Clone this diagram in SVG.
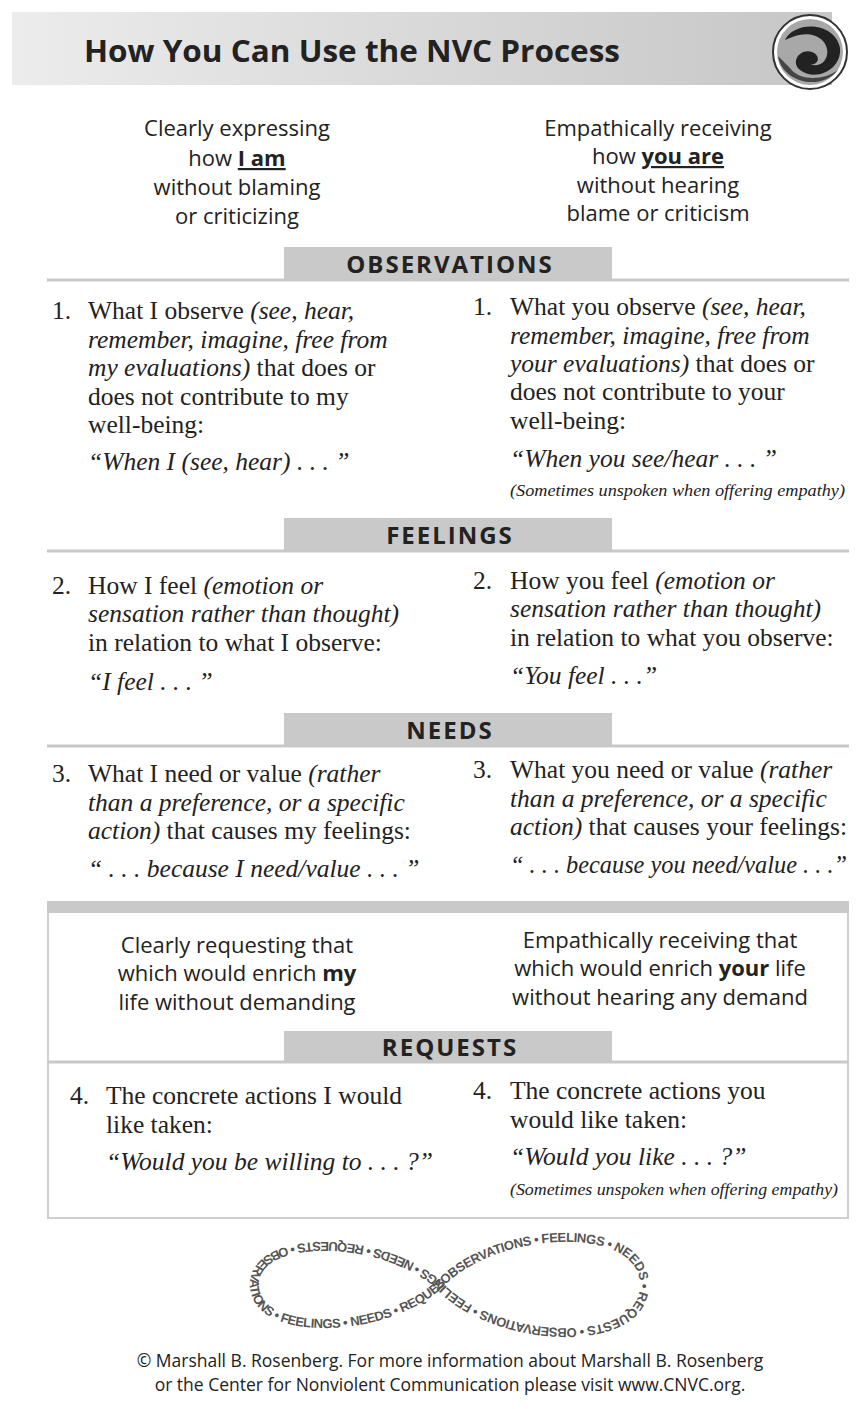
<svg xmlns="http://www.w3.org/2000/svg" width="866" height="1409" viewBox="0 0 866 1409">
<defs>
<linearGradient id="hg" x1="0" x2="1" y1="0" y2="0"><stop offset="0" stop-color="#ececec"/><stop offset="1" stop-color="#c6c6c6"/></linearGradient>
<path id="inf" d="M445,1285 C500,1230 640,1225 640,1285 C640,1345 500,1340 445,1285 C390,1230 250,1225 250,1285 C250,1345 390,1340 445,1285"/>
</defs>
<style>
.sans{font-family:"Open Sans","Liberation Sans",sans-serif;fill:#222}
.sub{font-size:22px;text-anchor:middle}
.serif{font-family:"Liberation Serif","DejaVu Serif",serif;font-size:25.5px;fill:#222}
.it{font-style:italic}
.note{font-size:16px;font-style:italic}
.band{fill:#c9c9c9}
.rule{stroke:#c8c8c8;stroke-width:3}
.lab{font-family:"Open Sans","Liberation Sans",sans-serif;font-weight:bold;font-size:24px;letter-spacing:2px;text-anchor:middle;fill:#222}
</style>
<rect width="866" height="1409" fill="#fff"/>
<g id="header">
<rect x="12" y="12" width="820" height="73" fill="url(#hg)"/>
<text x="84" y="62" class="sans" font-size="30" font-weight="bold" textLength="536" lengthAdjust="spacingAndGlyphs">How You Can Use the NVC Process</text>
<circle cx="810" cy="52" r="37" fill="#fff" stroke="#333" stroke-width="2"/>
<circle cx="810" cy="52" r="33" fill="#a8a8a8"/>
<path d="M785,40 C795,20 835,22 840,48 C842,70 815,82 800,70 C790,62 800,48 812,52 C822,56 818,66 810,64 C824,70 834,52 822,40 C808,28 790,38 785,40Z" fill="#222"/>
<path d="M778,56 C782,82 820,92 838,70 C825,80 800,82 790,68 Z" fill="#444"/>
</g>
<g id="intro">
<text class="sans sub" x="237" y="136">Clearly expressing</text>
<text class="sans sub" x="237" y="166">how <tspan font-weight="bold" text-decoration="underline">I am</tspan></text>
<text class="sans sub" x="237" y="195">without blaming</text>
<text class="sans sub" x="237" y="224">or criticizing</text>
<text class="sans sub" x="658" y="136">Empathically receiving</text>
<text class="sans sub" x="658" y="164">how <tspan font-weight="bold" text-decoration="underline">you are</tspan></text>
<text class="sans sub" x="658" y="193">without hearing</text>
<text class="sans sub" x="658" y="221">blame or criticism</text>
</g>
<g id="observations">
<rect class="band" x="284" y="247" width="328" height="32"/>
<line class="rule" x1="47" y1="280" x2="849" y2="280"/>
<text class="lab" x="450" y="273">OBSERVATIONS</text>
<text class="serif" x="52" y="319">1.</text>
<text class="serif" x="88" y="319">What I observe <tspan class="it">(see, hear,</tspan></text>
<text class="serif it" x="88" y="348">remember, imagine, free from</text>
<text class="serif" x="88" y="376"><tspan class="it">my evaluations)</tspan> that does or</text>
<text class="serif" x="88" y="405">does not contribute to my</text>
<text class="serif" x="88" y="433">well-being:</text>
<text class="serif it" x="88" y="470">“When I (see, hear) . . . ”</text>
<text class="serif" x="473" y="315">1.</text>
<text class="serif" x="510" y="315">What you observe <tspan class="it">(see, hear,</tspan></text>
<text class="serif it" x="510" y="344">remember, imagine, free from</text>
<text class="serif" x="510" y="372"><tspan class="it">your evaluations)</tspan> that does or</text>
<text class="serif" x="510" y="400">does not contribute to your</text>
<text class="serif" x="510" y="429">well-being:</text>
<text class="serif it" x="510" y="467">“When you see/hear . . . ”</text>
<text class="serif note" x="510" y="496" textLength="335" lengthAdjust="spacingAndGlyphs">(Sometimes unspoken when offering empathy)</text>
</g>
<g id="feelings">
<rect class="band" x="284" y="518" width="328" height="32"/>
<line class="rule" x1="47" y1="551" x2="849" y2="551"/>
<text class="lab" x="450" y="544">FEELINGS</text>
<text class="serif" x="52" y="594">2.</text>
<text class="serif" x="88" y="594">How I feel <tspan class="it">(emotion or</tspan></text>
<text class="serif it" x="88" y="622">sensation rather than thought)</text>
<text class="serif" x="88" y="651">in relation to what I observe:</text>
<text class="serif it" x="88" y="690">“I feel . . . ”</text>
<text class="serif" x="473" y="589">2.</text>
<text class="serif" x="510" y="589">How you feel <tspan class="it">(emotion or</tspan></text>
<text class="serif it" x="510" y="617">sensation rather than thought)</text>
<text class="serif" x="510" y="646">in relation to what you observe:</text>
<text class="serif it" x="510" y="684">“You feel . . .”</text>
</g>
<g id="needs">
<rect class="band" x="284" y="713" width="328" height="32"/>
<line class="rule" x1="47" y1="746" x2="849" y2="746"/>
<text class="lab" x="450" y="739">NEEDS</text>
<text class="serif" x="52" y="782">3.</text>
<text class="serif" x="88" y="782">What I need or value <tspan class="it">(rather</tspan></text>
<text class="serif it" x="88" y="811">than a preference, or a specific</text>
<text class="serif" x="88" y="839"><tspan class="it">action)</tspan> that causes my feelings:</text>
<text class="serif it" x="88" y="877">“ . . . because I need/value . . . ”</text>
<text class="serif" x="473" y="778">3.</text>
<text class="serif" x="510" y="778">What you need or value <tspan class="it">(rather</tspan></text>
<text class="serif it" x="510" y="807">than a preference, or a specific</text>
<text class="serif" x="510" y="835"><tspan class="it">action)</tspan> that causes your feelings:</text>
<text class="serif it" x="510" y="873" textLength="337" lengthAdjust="spacingAndGlyphs">“ . . . because you need/value . . .”</text>
</g>
<g id="requests">
<rect x="48" y="902" width="800" height="316" fill="none" stroke="#cfcfcf" stroke-width="2"/>
<rect x="47" y="901" width="802" height="12" fill="#c9c9c9"/>
<text class="sans sub" x="237" y="953">Clearly requesting that</text>
<text class="sans sub" x="237" y="981">which would enrich <tspan font-weight="bold">my</tspan></text>
<text class="sans sub" x="237" y="1010">life without demanding</text>
<text class="sans sub" x="660" y="948">Empathically receiving that</text>
<text class="sans sub" x="660" y="976">which would enrich <tspan font-weight="bold">your</tspan> life</text>
<text class="sans sub" x="660" y="1005">without hearing any demand</text>
<rect class="band" x="284" y="1031" width="328" height="31"/>
<line class="rule" x1="47" y1="1062" x2="849" y2="1062"/>
<text class="lab" x="450" y="1056">REQUESTS</text>
<text class="serif" x="70" y="1104">4.</text>
<text class="serif" x="106" y="1104">The concrete actions I would</text>
<text class="serif" x="106" y="1133">like taken:</text>
<text class="serif it" x="106" y="1170">“Would you be willing to . . . ?”</text>
<text class="serif" x="473" y="1099">4.</text>
<text class="serif" x="510" y="1099">The concrete actions you</text>
<text class="serif" x="510" y="1128">would like taken:</text>
<text class="serif it" x="510" y="1165">“Would you like . . . ?”</text>
<text class="serif note" x="510" y="1195" textLength="328" lengthAdjust="spacingAndGlyphs">(Sometimes unspoken when offering empathy)</text>
</g>
<g id="infinity">
<text font-family="Liberation Sans, sans-serif" font-weight="bold" font-size="13" fill="#555"><textPath href="#inf" textLength="930" lengthAdjust="spacing">OBSERVATIONS • FEELINGS • NEEDS • REQUESTS • OBSERVATIONS • FEELINGS • NEEDS • REQUESTS • OBSERVATIONS • FEELINGS • NEEDS • REQUESTS •</textPath></text>
</g>
<g id="footer">
<text class="sans" font-size="17.5" text-anchor="middle" x="450" y="1367">© Marshall B. Rosenberg. For more information about Marshall B. Rosenberg</text>
<text class="sans" font-size="17.5" text-anchor="middle" x="450" y="1391">or the Center for Nonviolent Communication please visit www.CNVC.org.</text>
</g>
</svg>
